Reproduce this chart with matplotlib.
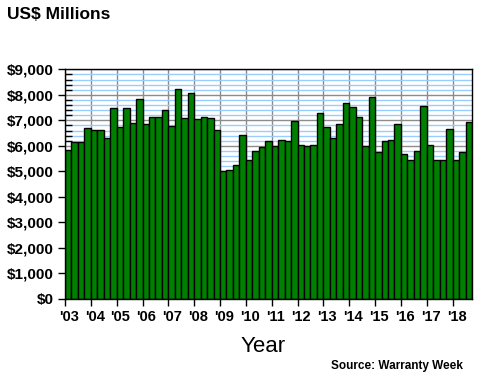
import matplotlib
matplotlib.use("Agg")
import matplotlib.pyplot as plt
from matplotlib.ticker import MultipleLocator, FixedLocator, FuncFormatter

plt.rcParams['font.family'] = ['Liberation Sans', 'DejaVu Sans']

# ---------- Data (quarterly, 2003 Q1 .. 2018 Q3) ----------
years = ["'03", "'04", "'05", "'06", "'07", "'08", "'09", "'10",
         "'11", "'12", "'13", "'14", "'15", "'16", "'17", "'18"]
claims = [
    5830, 6140, 6140, 6690,   # 2003
    6610, 6610, 6310, 7470,   # 2004
    6740, 7470, 6900, 7820,   # 2005
    6840, 7140, 7140, 7390,   # 2006
    6770, 8220, 7080, 8060,   # 2007
    7040, 7140, 7080, 6610,   # 2008
    5000, 5040, 5240, 6410,   # 2009
    5450, 5790, 5940, 6180,   # 2010
    5980, 6220, 6180, 6960,   # 2011
    6020, 5980, 6020, 7270,   # 2012
    6730, 6300, 6840, 7670,   # 2013
    7510, 7120, 5980, 7900,   # 2014
    5750, 6180, 6220, 6840,   # 2015
    5670, 5430, 5790, 7550,   # 2016
    6020, 5430, 5430, 6650,   # 2017
    5430, 5750, 6920,         # 2018
]

# ---------- Plot ----------
fig = plt.figure(figsize=(4.8, 3.8), dpi=100)
ax = fig.add_axes([0.1354, 0.2132, 0.8479, 0.6044])

x = list(range(len(claims)))
ax.bar(x, claims, width=1.0, align='edge', color='#008000',
       edgecolor='black', linewidth=1.0, zorder=3)

ax.set_xlim(0, len(claims))
ax.set_ylim(0, 9000)

# y axis: major every 1000 (grey grid), minor every 200 (blue grid)
ax.yaxis.set_major_locator(MultipleLocator(1000))
ax.yaxis.set_minor_locator(MultipleLocator(200))
ax.yaxis.set_major_formatter(FuncFormatter(lambda v, p: f'${int(v):,}'))
ax.grid(axis='y', which='minor', color='#99CCFF', linewidth=1.0, zorder=0)
ax.grid(axis='y', which='major', color='#8C8C8C', linewidth=1.0, zorder=1)

# x axis: ticks at year boundaries, labels just after
ax.xaxis.set_major_locator(FixedLocator([4 * i for i in range(len(years))]))
ax.xaxis.set_minor_locator(FixedLocator([4 * i + 0.6 for i in range(len(years))]))
ax.xaxis.set_major_formatter(FuncFormatter(lambda v, p: ''))
ax.set_xticklabels(years, minor=True)
ax.grid(axis='x', which='major', color='#8C8C8C', linewidth=1.0, zorder=1)

ax.tick_params(axis='y', which='major', direction='out', length=5, width=1,
               labelsize=11, pad=3)
ax.tick_params(axis='y', which='minor', direction='in', length=5, width=1)
ax.tick_params(axis='x', which='major', direction='out', length=5, width=1)
ax.tick_params(axis='x', which='minor', length=0, labelsize=10.5, pad=8)
for lbl in ax.get_yticklabels() + ax.get_xticklabels(minor=True):
    lbl.set_fontweight('bold')

for s in ax.spines.values():
    s.set_color('black')
    s.set_linewidth(1.0)
    s.set_zorder(4)

fig.text(0.015, 0.962, 'US$ Millions', fontsize=12.5, fontweight='bold',
         ha='left', va='center')
fig.text(0.548, 0.087, 'Year', fontsize=16, ha='center', va='center')
fig.text(0.965, 0.037, 'Source: Warranty Week', fontsize=8.5,
         fontweight='bold', ha='right', va='center')

fig.savefig('out.png', dpi=100)
